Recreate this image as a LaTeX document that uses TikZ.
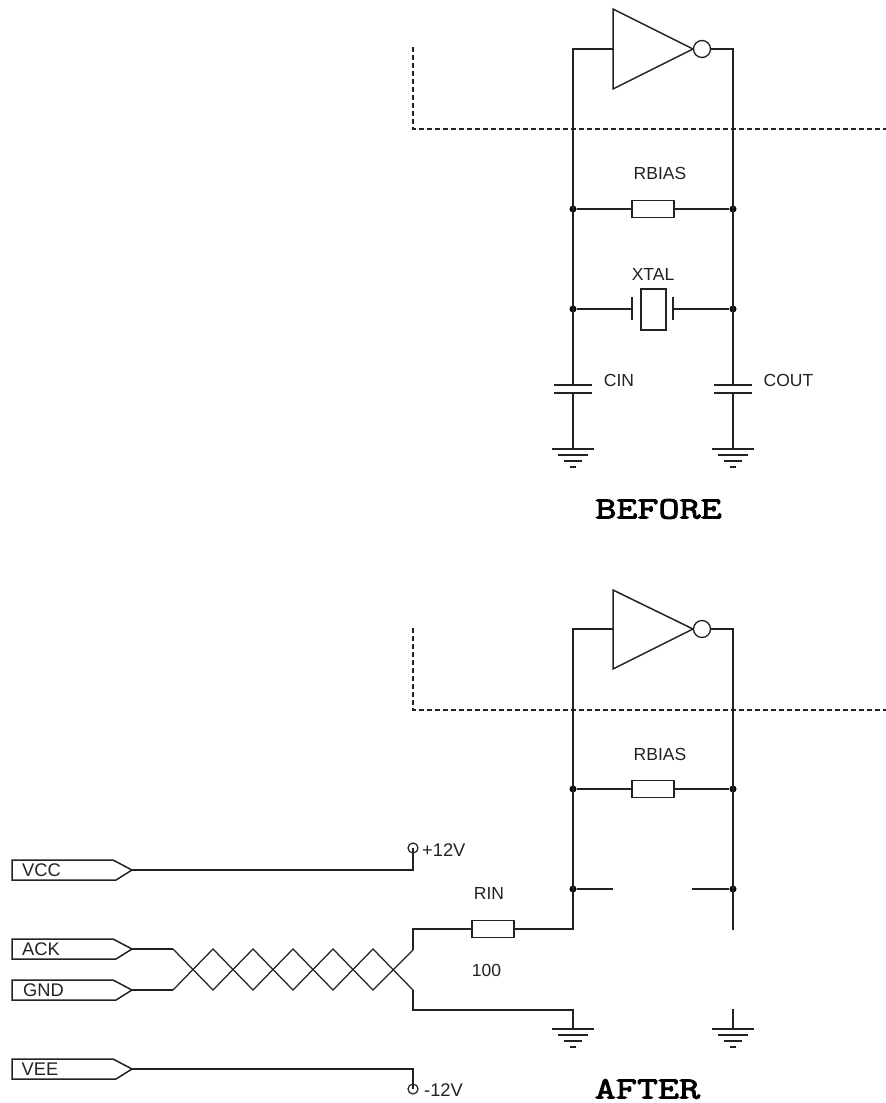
\documentclass[tikz,border=0pt]{standalone}
\usepackage{fontspec}
\usepackage{xcolor}
\setmainfont{Liberation Sans}
\newfontfamily\titlefont[FakeStretch=1.32,FakeBold=3]{Latin Modern Mono}
\usetikzlibrary{calc}
\definecolor{wirecol}{RGB}{34, 34, 34}
\tikzset{
  wire/.style={draw=wirecol, line width=1.5pt},
  twist/.style={draw=wirecol, line width=1.25pt},
  boundary/.style={draw=wirecol, line width=1.4pt, dash pattern=on 5pt off 3pt},
  resistor/.style={draw=wirecol, line width=1.5pt, fill=white, rectangle, minimum width=42pt, minimum height=17pt, inner sep=0pt},
  crystal/.style={draw=wirecol, line width=1.5pt, fill=white, rectangle, minimum width=25pt, minimum height=41pt, inner sep=0pt},
  bubble/.style={draw=wirecol, line width=1.3pt, fill=white, circle, minimum size=17pt, inner sep=0pt},
  terminal/.style={draw=wirecol, line width=1.2pt, circle, minimum size=10pt, inner sep=0pt},
  junction/.style={fill=black, circle, minimum size=7pt, inner sep=0pt},
  lab/.style={text=wirecol, font=\fontsize{17.5pt}{19pt}\selectfont, inner sep=0pt},
  pinlab/.style={text=wirecol, font=\fontsize{18.3pt}{20pt}\selectfont, inner sep=0pt, anchor=west},
  title/.style={text=black, font=\titlefont\fontsize{31pt}{33pt}\selectfont, inner sep=0pt}
}
\begin{document}
\begin{tikzpicture}[x=1pt,y=-1pt]
\useasboundingbox (0,0) rectangle (886,1103);
\fill[white] (0,0) rectangle (886,1103);

% Before stage
\draw[boundary] (413,47) -- (413,129) -- (886,129);
\coordinate (binv) at (613,49);
\draw[wire] (613,9) -- (693,49) -- (613,89) -- cycle;
\node[bubble] (bbub) at (702,49) {};
\node[junction] (bj1) at (573,209) {};
\node[junction] (bj2) at (733,209) {};
\node[junction] (bj3) at (573,309) {};
\node[junction] (bj4) at (733,309) {};
\node[resistor] (brbias) at (653,209) {};
\node[lab] (brbiaslab) at (660,173) {RBIAS};
\node[crystal] (bxtal) at (653.5,309.5) {};
\node[lab] (bxtallab) at (653,274) {XTAL};
\coordinate (bxl) at (632,309);
\coordinate (bxr) at (673,309);
\coordinate (bcin) at (573,385);
\coordinate (bcinb) at (573,393);
\coordinate (bcout) at (733,385);
\coordinate (bcoutb) at (733,393);
\coordinate (bgnd1) at (573,449);
\coordinate (bgnd2) at (733,449);
\node[lab] (bcinlab) at (619,380) {CIN};
\node[lab] (bcoutlab) at (788.5,380) {COUT};
\node[title] (before) at (658.5,509) {BEFORE};
\draw[wire] (binv) -| (bj1.center) -- (bj3.center) -- (bcin);
\draw[wire] (bbub) -| (bj2.center) -- (bj4.center) -- (bcout);
\draw[wire] (bj1) -- (brbias) -- (bj2);
\draw[wire] (bj3) -- (bxl);
\draw[wire] (bj4) -- (bxr);
\draw[wire] (632,297) -- (632,320);
\draw[wire] (673,297) -- (673,320);
\draw[wire] (bcinb) -- (bgnd1);
\draw[wire] (bcoutb) -- (bgnd2);
\foreach \cx in {573,733} {
    \draw[wire] (\cx-19,385) -- (\cx+19,385);
    \draw[wire] (\cx-19,393) -- (\cx+19,393);
}

% After stage
\draw[boundary] (413,628) -- (413,710) -- (886,710);
\coordinate (ainv) at (613,629);
\draw[wire] (613,590) -- (693,629) -- (613,669) -- cycle;
\node[bubble] (abub) at (702,629) {};
\node[junction] (aj1) at (573,789) {};
\node[junction] (aj2) at (733,789) {};
\node[junction] (aj3) at (573,889) {};
\node[junction] (aj4) at (733,889) {};
\node[resistor] (arbias) at (653,789) {};
\node[lab] (arbiaslab) at (660,754) {RBIAS};
\node[resistor] (rin) at (493,929) {};
\node[lab] (rinlab) at (489,893) {RIN};
\node[lab] (rinval) at (486.5,970) {100};
\coordinate (astub1) at (613,889);
\coordinate (astub2) at (692,889);
\coordinate (arail) at (573,929);
\coordinate (aopen) at (733,930);
\coordinate (agnd1) at (573,1029);
\coordinate (agnd2) at (733,1029);
\coordinate (agtop) at (733,1009);
\node[title] (after) at (647.5,1089) {AFTER};
\draw[wire] (ainv) -| (aj1.center) -- (aj3.center) -- (arail) -- (rin);
\draw[wire] (abub) -| (aj2.center) -- (aj4.center) -- (aopen);
\draw[wire] (aj1) -- (arbias) -- (aj2);
\draw[wire] (aj3) -- (astub1);
\draw[wire] (aj4) -- (astub2);
\draw[wire] (agtop) -- (agnd2);

% Grounds
\foreach \gx/\gy in {573/449,733/449,573/1029,733/1029} {
    \draw[wire] (\gx-21,\gy) -- (\gx+21,\gy);
    \draw[wire] (\gx-15,\gy+6) -- (\gx+15,\gy+6);
    \draw[wire] (\gx-9,\gy+12) -- (\gx+9,\gy+12);
    \draw[wire] (\gx-3,\gy+18) -- (\gx+3,\gy+18);
}

% Pins
\foreach \pin/\y/\tx in {VCC/870/22,ACK/949/22,GND/990/23,VEE/1069/21.5} {
    \draw[wire] (12,\y-10) -- (113,\y-10) -- (132,\y) -- (116,\y+10) -- (12,\y+10) -- cycle;
    \coordinate (tip\pin) at (132,\y);
    \node[pinlab] (lab\pin) at (\tx,\y) {\pin};
}
\node[terminal] (vplus) at (413,848) {};
\node[terminal] (vminus) at (413,1089) {};
\node[pinlab] (vpluslab) at (422,850) {+12V};
\node[pinlab] (vminuslab) at (424,1090) {-12V};
\draw[wire] (tipVCC) -| (vplus.center);
\draw[wire] (tipVEE) -| (vminus.center);

% Twisted pair
\coordinate (ackend) at (173,949);
\coordinate (gndend) at (173,990);
\coordinate (ackout) at (413,950);
\coordinate (gndout) at (413,990);
\coordinate (rinin) at (413,929);
\coordinate (gndrun) at (413,1010);
\coordinate (gndtop) at (573,1010);
\draw[twist] (ackend) -- (213,990) -- (253,949) -- (293,990) -- (333,949) -- (373,990) -- (ackout);
\draw[twist] (gndend) -- (213,949) -- (253,990) -- (293,949) -- (333,990) -- (373,949) -- (gndout);
\draw[wire] (tipACK) -- (ackend);
\draw[wire] (tipGND) -- (gndend);
\draw[wire] (ackout) -- (rinin) -- (rin);
\draw[wire] (gndout) -- (gndrun) -- (gndtop) -- (agnd1);
\end{tikzpicture}
\end{document}
